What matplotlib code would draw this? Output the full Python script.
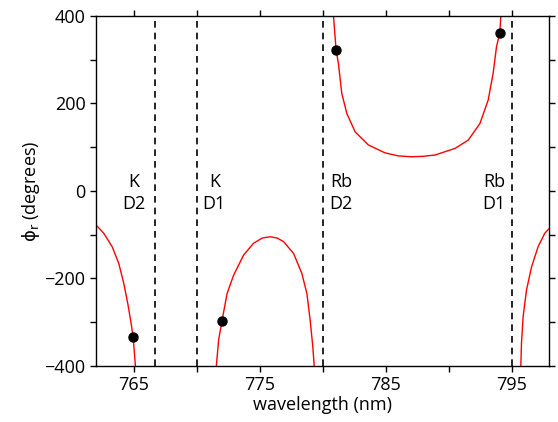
import matplotlib
matplotlib.use("Agg")
import matplotlib.pyplot as plt
from matplotlib.ticker import MultipleLocator

plt.rcParams["font.family"] = ["Open Sans", "DejaVu Sans"]
plt.rcParams["font.size"] = 13
plt.rcParams["mathtext.fontset"] = "dejavusans"

# Phase curve, one branch per segment
left_x = [762.0, 762.62, 763.29, 763.81, 764.21, 764.52, 764.79, 764.95, 765.13]
left_y = [-78, -97, -128, -166, -212, -257, -303, -334, -400]

hump_x = [771.56, 771.74, 772.01, 772.41, 772.93, 773.72, 774.51, 775.20,
          775.84, 776.40, 776.89, 777.69, 778.35, 778.75, 779.01, 779.22, 779.33]
hump_y = [-400, -341, -297, -235, -193, -147, -120, -108,
          -105, -108, -116, -143, -189, -235, -296, -357, -400]

u_x = [780.86, 781.07, 781.25, 781.52, 781.92, 782.58, 783.63, 784.95,
       786.00, 787.07, 788.00, 788.92, 790.51, 791.56, 792.49, 793.15,
       793.54, 793.81, 794.07, 794.15]
u_y = [400, 322, 292, 223, 177, 135, 105, 87,
       80, 78, 79, 82, 97, 116, 154, 208,
       269, 330, 362, 400]

right_x = [795.74, 795.79, 795.92, 796.19, 796.59, 797.11, 797.64, 798.0]
right_y = [-400, -349, -288, -227, -174, -128, -97, -86]

# Marked points
dot_x = [764.95, 772.01, 781.07, 794.07]
dot_y = [-334, -297, 322, 362]

# Atomic lines
line_x = [766.65, 770.05, 780.05, 795.0]
line_labels = ["K\nD2", "K\nD1", "Rb\nD2", "Rb\nD1"]
label_x = [765.0, 771.4, 781.45, 793.6]
label_y = -5

fig = plt.figure(figsize=(5.58, 4.22), dpi=100)
ax = fig.add_axes([0.172, 0.1334, 0.8124, 0.8287])

for xs, ys in [(left_x, left_y), (hump_x, hump_y), (u_x, u_y), (right_x, right_y)]:
    ax.plot(xs, ys, color="red", lw=1.0, zorder=2)

for lx in line_x:
    ax.axvline(lx, color="black", ls=(0, (4, 3)), lw=1.2, zorder=1)

for tx, txt in zip(label_x, line_labels):
    ax.text(tx, label_y, txt, ha="center", va="center", fontsize=13,
            linespacing=1.35)

ax.plot(dot_x, dot_y, "o", color="black", ms=6.5, zorder=3)

ax.set_xlim(762, 798)
ax.set_ylim(-400, 400)
ax.xaxis.set_minor_locator(MultipleLocator(5))
ax.set_xticks([765, 775, 785, 795])
ax.yaxis.set_major_locator(MultipleLocator(200))
ax.yaxis.set_minor_locator(MultipleLocator(100))
ax.tick_params(which="both", direction="out", length=4, width=1,
               top=True, right=True, labelsize=13)
for s in ax.spines.values():
    s.set_linewidth(1.0)

ax.set_xlabel("wavelength (nm)", fontsize=13, labelpad=1)
ax.set_ylabel(r"$\mathrm{\phi}_\mathrm{r}$ (degrees)", fontsize=13, labelpad=2)

fig.savefig("out.png", dpi=100)
